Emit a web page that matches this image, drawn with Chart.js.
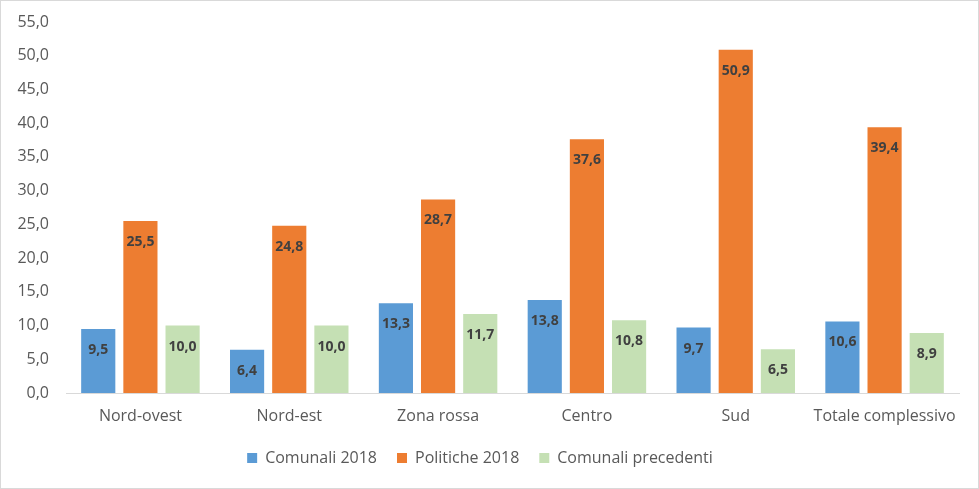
<!DOCTYPE html>
<html>
<head>
<meta charset="utf-8">
<script src="https://cdn.jsdelivr.net/npm/chart.js@4.4.0/dist/chart.umd.min.js"></script>
<style>
  html, body { margin: 0; padding: 0; background: #fff; }
  #wrap { width: 979px; height: 489px; box-sizing: border-box; border: 1px solid #d9d9d9; position: relative; }
</style>
</head>
<body>
<div id="wrap"><canvas id="chart"></canvas></div>
<script>
const categorie = ['Nord-ovest', 'Nord-est', 'Zona rossa', 'Centro', 'Sud', 'Totale complessivo'];
const comunali2018 = [9.5, 6.4, 13.3, 13.8, 9.7, 10.6];
const politiche2018 = [25.5, 24.8, 28.7, 37.6, 50.9, 39.4];
const comunaliPrecedenti = [10.0, 10.0, 11.7, 10.8, 6.5, 8.9];

const fmt = v => Number(v).toFixed(1).replace('.', ',');

// etichette dentro le barre, vicino alla cima
const etichette = {
  id: 'etichette',
  afterDatasetsDraw(chart) {
    const ctx = chart.ctx;
    ctx.save();
    ctx.font = 'bold 14px "Open Sans", sans-serif';
    ctx.fillStyle = '#404040';
    ctx.textAlign = 'center';
    ctx.textBaseline = 'middle';
    chart.data.datasets.forEach((ds, i) => {
      chart.getDatasetMeta(i).data.forEach((bar, j) => {
        ctx.fillText(fmt(ds.data[j]), bar.x, bar.y + 21);
      });
    });
    ctx.restore();
  }
};

new Chart(document.getElementById('chart'), {
  type: 'bar',
  data: {
    labels: categorie,
    datasets: [
      { label: 'Comunali 2018', data: comunali2018, backgroundColor: '#5B9BD5' },
      { label: 'Politiche 2018', data: politiche2018, backgroundColor: '#ED7D31' },
      { label: 'Comunali precedenti', data: comunaliPrecedenti, backgroundColor: '#C5E0B4' }
    ]
  },
  options: {
    responsive: true,
    maintainAspectRatio: false,
    animation: false,
    categoryPercentage: 0.85,
    barPercentage: 0.81,
    layout: { padding: { top: 21, right: 19, bottom: 12, left: 0 } },
    plugins: {
      tooltip: { enabled: false },
      legend: {
        position: 'bottom',
        labels: {
          color: '#595959',
          font: { family: '"Open Sans", sans-serif', size: 16 },
          boxWidth: 10,
          boxHeight: 10,
          padding: 20
        }
      }
    },
    scales: {
      x: {
        grid: { display: false },
        border: { display: true, color: '#d9d9d9', width: 1 },
        ticks: { color: '#595959', font: { family: '"Open Sans", sans-serif', size: 16 }, padding: 6 },
        afterFit(s) { s.height = 37; }
      },
      y: {
        min: 0,
        max: 55,
        grid: { display: false, drawTicks: true, tickLength: 13 },
        border: { display: false },
        ticks: {
          stepSize: 5,
          color: '#595959',
          font: { family: '"Open Sans", sans-serif', size: 16 },
          padding: 4,
          callback: v => fmt(v)
        },
        afterFit(s) { s.width = 65; }
      }
    }
  },
  plugins: [etichette]
});
</script>
</body>
</html>
